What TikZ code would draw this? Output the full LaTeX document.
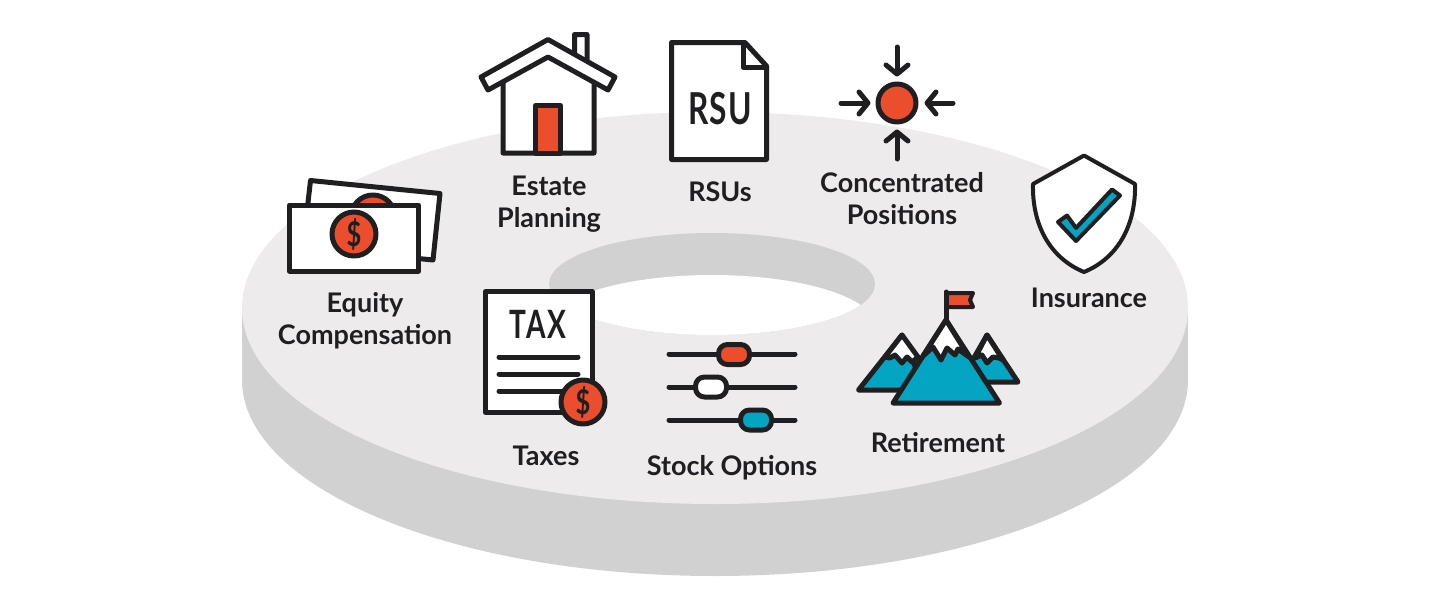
\documentclass[tikz,border=0pt]{standalone}
\usepackage{fontspec}
\setmainfont{Lato}
\definecolor{disktop}{HTML}{EEEBEC}
\definecolor{diskside}{HTML}{D1D1D1}
\definecolor{inkblack}{HTML}{1F1E21}
\definecolor{iconred}{HTML}{EA4E2C}
\definecolor{iconteal}{HTML}{04A5C2}
\tikzset{
  iconline/.style={draw=inkblack, line width=5pt, line join=round, line cap=round},
  thinline/.style={draw=inkblack, line width=4pt, line join=round, line cap=round},
  lbl/.style={text=inkblack, align=center, inner sep=0pt, font=\fontsize{27}{32}\selectfont\bfseries},
  stamp/.style={text=inkblack, inner sep=0pt, font=\fontsize{44}{44}\selectfont\bfseries\addfontfeature{LetterSpace=4}, xscale=0.72},
  dollar/.style={text=inkblack, inner sep=0pt, font=\fontsize{34}{34}\selectfont\bfseries, xscale=0.75},
  knob/.style={iconline, rounded corners=9pt}
}
\begin{document}
\begin{tikzpicture}[x=1pt,y=-1pt]
  \useasboundingbox (0,0) rectangle (1430,598);
  \fill [white] (0,0) rectangle (1430,598);
  % disk
  \fill [diskside] (715,380) ellipse [x radius=473pt, y radius=196pt];
  \fill [diskside] (242,308) rectangle (1188,380);
  \fill [disktop] (715,308) ellipse [x radius=473pt, y radius=196pt];
  \fill [diskside] (712,284) ellipse [x radius=163pt, y radius=51pt];
  \begin{scope}
    \clip (712,284) ellipse [x radius=163pt, y radius=51pt];
    \fill [white] (712,326) ellipse [x radius=163pt, y radius=51pt];
  \end{scope}
  % money
  \draw [iconline, fill=white] (310.5,180.5)--(440,193.5)--(433,260)--(303,247)--cycle;
  \draw [iconline, fill=iconred] (373,217) circle (22pt);
  \draw [iconline, fill=white] (289.5,205)--(418.5,205)--(418.5,271)--(289.5,271)--cycle;
  \draw [iconline, fill=iconred] (354,234) circle (22pt);
  \node [dollar] (moneysign) at (354,234) {\$};
  \node [lbl] (equity) at (365,321) {Equity\\Compensation};
  % house
  \draw [iconline, fill=white] (574.5,62)--(574.5,34.5)--(587,34.5)--(587,70)--cycle;
  \draw [iconline, fill=white] (503,153)--(503,70)--(548,50)--(594,70)--(594,153)--cycle;
  \draw [iconline, fill=iconred] (535.5,153)--(535.5,105.5)--(560.5,105.5)--(560.5,153)--cycle;
  \draw [iconline, fill=white] (548,39.5)--(615,77)--(608,90)--(548,57)--(488,90)--(481,77)--cycle;
  \node [lbl] (estate) at (549,204) {Estate\\Planning};
  % rsu page
  \draw [iconline, fill=white] (671.5,42.5)--(745,42.5)--(766.5,66)--(766.5,159.5)--(671.5,159.5)--cycle;
  \draw [iconline] (743,42.5)--(743,67)--(766.5,67);
  \node [stamp] (rsutext) at (720,109) {RSU};
  \node [lbl] (rsus) at (720,192) {RSUs};
  % concentrated
  \draw [iconline, fill=iconred] (897,103) circle (19pt);
  \draw [iconline] (897,47)--(897,73);
  \draw [iconline] (886,65)--(897,74)--(908,65);
  \draw [iconline] (897,159)--(897,133);
  \draw [iconline] (886,141)--(897,132)--(908,141);
  \draw [iconline] (841,103)--(867,103);
  \draw [iconline] (859,92)--(868,103)--(859,114);
  \draw [iconline] (953,103)--(928,103);
  \draw [iconline] (936,92)--(927,103)--(936,114);
  \node [lbl] (concentrated) at (902,199) {Concentrated\\Positions};
  % shield
  \draw [thinline, fill=white] (1084,155.5)--(1135,184) .. controls (1136,225) and (1118,258) .. (1084,272)
    .. controls (1050,258) and (1032,225) .. (1033,184)--cycle;
  \draw [thinline, fill=iconteal] (1112,189.5)--(1120,195.5)--(1076,241)--(1058,222)--(1067,215.5)--(1076,228)--cycle;
  \node [lbl] (insurance) at (1089,298) {Insurance};
  % tax page
  \draw [iconline, fill=white] (485.5,291.5)--(592,291.5)--(592,412.5)--(485.5,412.5)--cycle;
  \node [stamp, font=\fontsize{39}{39}\selectfont\bfseries\addfontfeature{LetterSpace=6}] (taxtext) at (538,324) {TAX};
  \draw [iconline] (499,357)--(578,357);
  \draw [iconline] (499,374)--(578,374);
  \draw [iconline] (499,391)--(570,391);
  \draw [iconline, fill=iconred] (583,402) circle (22pt);
  \node [dollar] (taxsign) at (583,402) {\$};
  \node [lbl] (taxes) at (546,456) {Taxes};
  % sliders
  \draw [iconline] (669,354)--(795,354);
  \draw [iconline] (669,387)--(795,387);
  \draw [iconline] (669,420)--(795,420);
  \draw [knob, fill=iconred] (718.5,344.5) rectangle (749.5,364.5);
  \draw [knob, fill=white] (695.5,377) rectangle (726.5,397);
  \draw [knob, fill=iconteal] (740.5,410) rectangle (771.5,430);
  \node [lbl] (stockoptions) at (732,468) {Stock Options};
  % mountains
  \draw [iconline, fill=iconteal] (902,335)--(925,390)--(858.5,390)--cycle;
  \draw [iconline, fill=iconteal] (987,335)--(1018,382)--(960,382)--cycle;
  \draw [iconline, fill=white] (902,335)--(918,357)--(912,362)--(907,357)--(902,363)--(895,355)--(890,358)--(885,357)--cycle;
  \draw [iconline, fill=white] (987,335)--(1003,360)--(999,358)--(993,357)--(987,363)--(982,355)--(975,358)--cycle;
  \draw [iconline, fill=iconteal] (946,320)--(999.5,403)--(893,403)--cycle;
  \draw [iconline, fill=white] (946,320)--(969,357)--(958,349)--(955,355)--(947,348)--(941,360)--(933,347)--(923,356)--cycle;
  \draw [thinline, fill=iconred] (946,293)--(973,293)--(970,300)--(973,307)--(946,307)--cycle;
  \draw [iconline] (946,292)--(946,320);
  \node [lbl] (retirement) at (938,443) {Retirement};
\end{tikzpicture}
\end{document}
